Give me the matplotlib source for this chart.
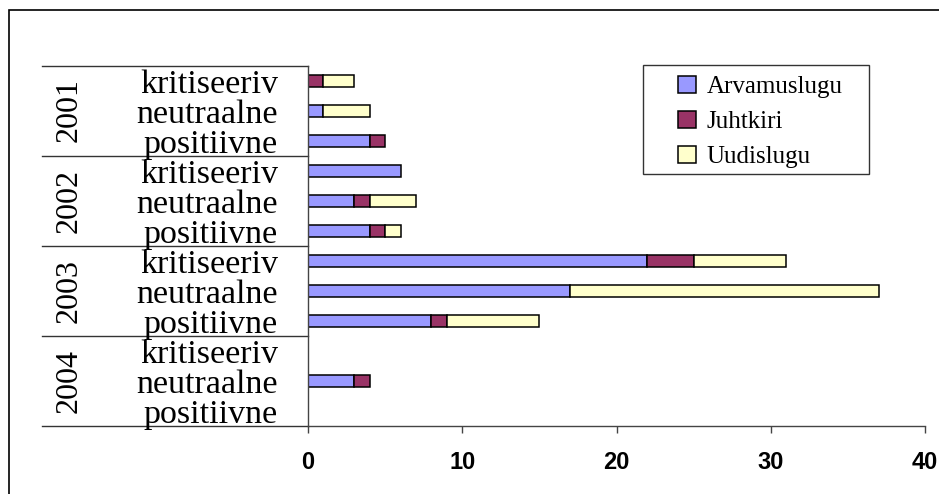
import numpy as np
import matplotlib
matplotlib.use('Agg')
import matplotlib.pyplot as plt
from matplotlib.patches import Rectangle, Patch
from matplotlib.transforms import blended_transform_factory

# andmed: iga aasta kohta kolm tonaalsust (ülalt alla)
years = ['2001', '2002', '2003', '2004']
tones = ['kritiseeriv', 'neutraalne', 'positiivne']
arvamuslugu = [0, 1, 4, 6, 3, 4, 22, 17, 8, 0, 3, 0]
juhtkiri = [1, 0, 1, 0, 1, 1, 3, 0, 1, 0, 1, 0]
uudislugu = [2, 3, 0, 0, 3, 1, 6, 20, 6, 0, 0, 0]
series = [('Arvamuslugu', arvamuslugu, '#9999FF'),
          ('Juhtkiri', juhtkiri, '#993366'),
          ('Uudislugu', uudislugu, '#FFFFCC')]
xticks = [0, 10, 20, 30, 40]

W, H = 939, 494
fig = plt.figure(figsize=(W / 100, H / 100), dpi=100)
fig.patch.set_facecolor('white')

# välimine raam (osaliselt pildist väljas)
fig.patches.append(Rectangle((8.5 / W, -0.1), 1.2, 1 - 10.5 / H + 0.1,
                             transform=fig.transFigure, fill=False,
                             edgecolor='black', linewidth=1.2))

ax = fig.add_axes([308 / W, 1 - 425.5 / H, 617 / W, 360 / H])
n = len(years) * len(tones)
ypos = np.arange(n)
left = np.zeros(n)
for name, vals, col in series:
    vals = np.array(vals, dtype=float)
    m = vals > 0
    ax.barh(ypos[m], vals[m], left=left[m], height=0.4, color=col,
            edgecolor='black', linewidth=1.1)
    left += vals

ax.set_xlim(0, 40)
ax.set_ylim(n - 0.5, -0.5)
ax.set_xticks(xticks)
ax.set_xticklabels([str(t) for t in xticks])
ax.tick_params(axis='x', direction='out', length=5, width=1, color='#444444',
               pad=13, labelsize=17)
for lab in ax.get_xticklabels():
    lab.set_fontweight('bold')
    lab.set_family('Liberation Sans')
ax.set_yticks([])
for s in ['top', 'right']:
    ax.spines[s].set_visible(False)
ax.spines['left'].set_color('#444444')
ax.spines['bottom'].set_color('#444444')
ax.spines['left'].set_linewidth(1)
ax.spines['bottom'].set_linewidth(1)

# mitmetasemeline kategooriatelg
tr = blended_transform_factory(ax.transAxes, ax.transData)
x_line0 = (42 - 308) / 617
for g in range(len(years) + 1):
    yb = g * len(tones) - 0.5
    ax.plot([x_line0, 0], [yb, yb], color='#333333', linewidth=1,
            transform=tr, clip_on=False)
for g, yr in enumerate(years):
    yc = g * len(tones) + 1
    ax.text((69 - 308) / 617, yc, yr, rotation=90, ha='center', va='center',
            fontsize=23, family='Liberation Serif', transform=tr)
    for k, t in enumerate(tones):
        ax.text((278 - 308) / 617, g * len(tones) + k + 0.42, t, ha='right',
                va='baseline', fontsize=24.5, family='Liberation Serif', transform=tr)

# legend: raam eraldi, kirjed sees
fig.patches.append(Rectangle((643 / W, 1 - 174 / H), 226 / W, 109 / H,
                             transform=fig.transFigure, fill=False,
                             edgecolor='#333333', linewidth=1))
handles = [Patch(facecolor=c, edgecolor='black', linewidth=1.1) for _, _, c in series]
leg = fig.legend(handles, [s[0] for s in series], loc='center left',
                 bbox_to_anchor=(678 / W, 1 - 122 / H),
                 frameon=False,
                 prop={'family': 'Liberation Serif', 'size': 18},
                 handlelength=0.7, handleheight=0.7, handletextpad=0.45,
                 borderpad=0, labelspacing=0.5, borderaxespad=0)

fig.savefig('out.png', dpi=100)
